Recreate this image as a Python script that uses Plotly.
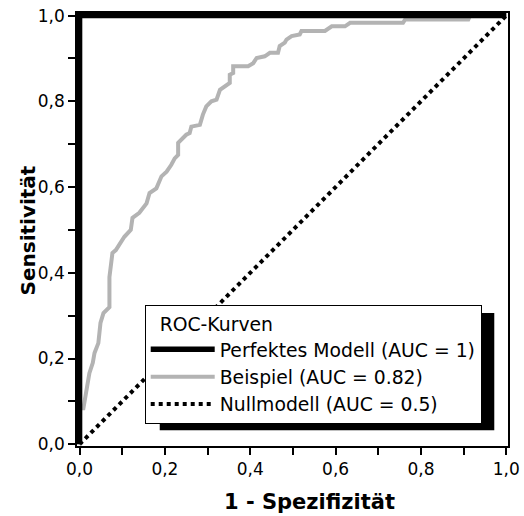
import plotly.graph_objects as go

# ROC curve of the example model
fpr_beispiel = [0.0, 0.0, 0.009, 0.012, 0.023, 0.031, 0.035, 0.044, 0.049, 0.056, 0.070, 0.070,
                0.077, 0.085, 0.105, 0.120, 0.124, 0.140, 0.157, 0.164, 0.180, 0.192, 0.204,
                0.215, 0.223, 0.231, 0.231, 0.250, 0.258, 0.262, 0.282, 0.289, 0.297, 0.309,
                0.321, 0.329, 0.340, 0.352, 0.352, 0.360, 0.360, 0.395, 0.407, 0.415, 0.434,
                0.446, 0.465, 0.469, 0.481, 0.485, 0.497, 0.516, 0.520, 0.575, 0.591, 0.622,
                0.634, 0.758, 0.763, 0.911, 0.915, 1.0]
tpr_beispiel = [0.0, 0.084, 0.084, 0.103, 0.166, 0.190, 0.213, 0.236, 0.283, 0.306, 0.320, 0.390,
                0.446, 0.453, 0.484, 0.500, 0.528, 0.540, 0.562, 0.586, 0.597, 0.625, 0.636,
                0.652, 0.667, 0.675, 0.703, 0.722, 0.726, 0.741, 0.745, 0.769, 0.788, 0.800,
                0.804, 0.827, 0.835, 0.843, 0.862, 0.866, 0.882, 0.882, 0.889, 0.901, 0.905,
                0.913, 0.913, 0.929, 0.937, 0.944, 0.952, 0.956, 0.964, 0.964, 0.975, 0.975,
                0.983, 0.983, 0.991, 0.991, 1.0, 1.0]

fpr_perfekt = [0.0, 0.0, 1.0]
tpr_perfekt = [0.0, 1.0, 1.0]

fpr_null = [0.0, 1.0]
tpr_null = [0.0, 1.0]

names = ["Perfektes Modell (AUC = 1)", "Beispiel (AUC = 0.82)", "Nullmodell (AUC = 0.5)"]
tick_vals = [0.0, 0.2, 0.4, 0.6, 0.8, 1.0]
x_title = "1 - Spezifizität"
y_title = "Sensitivität"
legend_title = "ROC-Kurven"

FONT = "DejaVu Sans"

fig = go.Figure()
fig.add_trace(go.Scatter(x=fpr_null, y=tpr_null, mode="lines", name=names[2], legendrank=3,
                         line=dict(color="black", width=4, dash="dot")))
fig.add_trace(go.Scatter(x=fpr_beispiel, y=tpr_beispiel, mode="lines", name=names[1], legendrank=2,
                         line=dict(color="#b3b3b3", width=4)))
fig.add_trace(go.Scatter(x=fpr_perfekt, y=tpr_perfekt, mode="lines", name=names[0], legendrank=1,
                         line=dict(color="black", width=5.5)))

axis_common = dict(
    automargin=False,
    showgrid=False, zeroline=False, showline=True, linecolor="black", linewidth=1.5,
    mirror=True, ticks="outside", ticklen=7, tickwidth=1.5, tickcolor="black",
    tickvals=tick_vals, tickformat=".1f",
    minor=dict(dtick=0.1, ticks="outside", ticklen=7, tickwidth=1.5, tickcolor="black"),
    tickfont=dict(family=FONT, size=17, color="black"),
)

fig.update_xaxes(range=[-0.006, 1.004], **axis_common)
fig.update_yaxes(range=[-0.004, 1.006], **axis_common)

# pixel -> paper conversion
L, T, W, H = 77.4, 13.4, 430.3, 432.3
def px(x):
    return (x - L) / W
def py(y):
    return (T + H - y) / H

# axis titles
fig.add_annotation(text=x_title, xref="paper", yref="paper", x=px(310), y=py(502),
                   xanchor="center", yanchor="middle", showarrow=False,
                   font=dict(family=FONT, size=21, color="black", weight=700))
fig.add_annotation(text=y_title, xref="paper", yref="paper", x=px(28), y=py(231),
                   xanchor="center", yanchor="middle", showarrow=False, textangle=-90,
                   font=dict(family=FONT, size=20, color="black", weight=700))

# legend shadow
fig.add_shape(type="rect", xref="paper", yref="paper", x0=px(160), x1=px(494), y0=py(430), y1=py(313),
              fillcolor="black", line=dict(width=0), layer="above")

fig.update_layout(
    width=524, height=516,
    margin=dict(l=L, r=524 - L - W, t=T, b=516 - T - H),
    paper_bgcolor="white", plot_bgcolor="white",
    separators=",.",
    legend=dict(x=px(145), y=py(305), xanchor="left", yanchor="top",
                bgcolor="white", bordercolor="black", borderwidth=1,
                title=dict(text="\u00a0\u00a0" + legend_title, font=dict(family=FONT, size=18.8, color="black")),
                font=dict(family=FONT, size=18.8, color="black"),
                itemwidth=64, tracegroupgap=0),
    font=dict(family=FONT, color="black"),
)

fig.write_html("out.html", config={"displayModeBar": False},
               post_script="document.body.style.margin='0';")
